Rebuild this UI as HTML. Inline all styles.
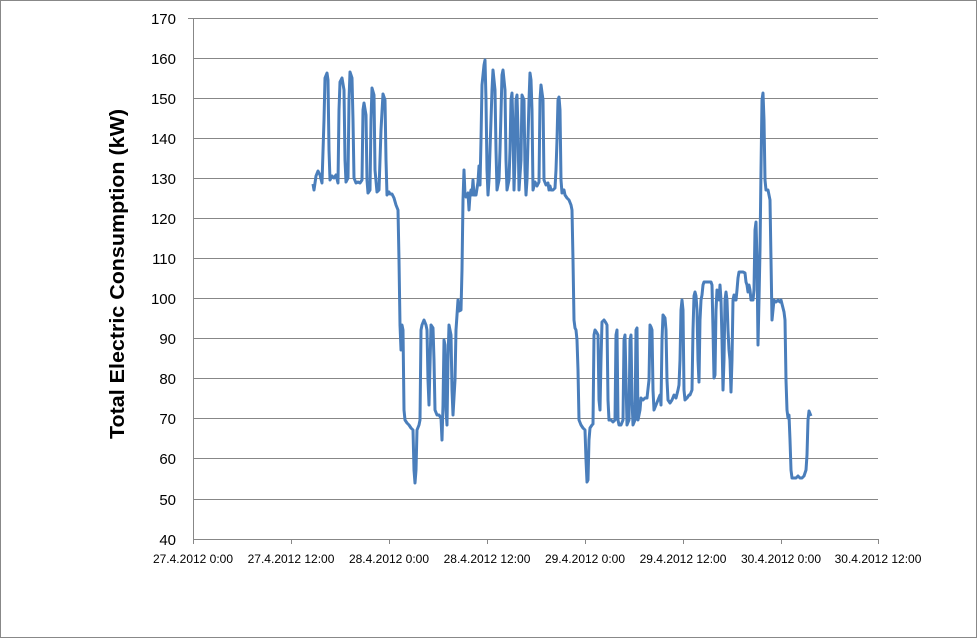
<!DOCTYPE html>
<html><head><style>
body{margin:0;background:#fff;}
svg{display:block;font-family:"Liberation Sans",sans-serif;}
</style></head><body>
<svg width="977" height="638" viewBox="0 0 977 638">
<rect x="0.5" y="0.5" width="976" height="637" fill="#fff" stroke="#888"/>
<g stroke="#878787" stroke-width="1">
<line x1="193" y1="18.5" x2="878" y2="18.5"/>
<line x1="193" y1="58.5" x2="878" y2="58.5"/>
<line x1="193" y1="98.5" x2="878" y2="98.5"/>
<line x1="193" y1="138.5" x2="878" y2="138.5"/>
<line x1="193" y1="178.5" x2="878" y2="178.5"/>
<line x1="193" y1="218.5" x2="878" y2="218.5"/>
<line x1="193" y1="258.5" x2="878" y2="258.5"/>
<line x1="193" y1="298.5" x2="878" y2="298.5"/>
<line x1="193" y1="338.5" x2="878" y2="338.5"/>
<line x1="193" y1="378.5" x2="878" y2="378.5"/>
<line x1="193" y1="418.5" x2="878" y2="418.5"/>
<line x1="193" y1="458.5" x2="878" y2="458.5"/>
<line x1="193" y1="499.5" x2="878" y2="499.5"/>
<line x1="193" y1="539.5" x2="878" y2="539.5"/>
<line x1="193.5" y1="18" x2="193.5" y2="544"/>
<line x1="291.5" y1="539" x2="291.5" y2="544"/>
<line x1="389.5" y1="539" x2="389.5" y2="544"/>
<line x1="487.5" y1="539" x2="487.5" y2="544"/>
<line x1="585.5" y1="539" x2="585.5" y2="544"/>
<line x1="683.5" y1="539" x2="683.5" y2="544"/>
<line x1="781.5" y1="539" x2="781.5" y2="544"/>
<line x1="878.5" y1="539" x2="878.5" y2="544"/>
<line x1="188" y1="18.5" x2="193" y2="18.5"/>
</g>
<g font-size="15" text-anchor="end" fill="#000">
<text x="176" y="24">170</text><text x="176" y="64">160</text><text x="176" y="104">150</text>
<text x="176" y="144">140</text><text x="176" y="184">130</text><text x="176" y="224">120</text>
<text x="176" y="264">110</text><text x="176" y="304">100</text><text x="176" y="344">90</text>
<text x="176" y="384">80</text><text x="176" y="424">70</text><text x="176" y="464">60</text>
<text x="176" y="505">50</text><text x="176" y="545">40</text>
</g>
<g font-size="12" text-anchor="middle" fill="#000">
<text x="193" y="563">27.4.2012 0:00</text><text x="291" y="563">27.4.2012 12:00</text>
<text x="389" y="563">28.4.2012 0:00</text><text x="487" y="563">28.4.2012 12:00</text>
<text x="585" y="563">29.4.2012 0:00</text><text x="683" y="563">29.4.2012 12:00</text>
<text x="781" y="563">30.4.2012 0:00</text><text x="878" y="563">30.4.2012 12:00</text>
</g>
<text transform="translate(124,274) rotate(-90)" font-size="20" font-weight="bold" text-anchor="middle" textLength="330" lengthAdjust="spacingAndGlyphs">Total Electric Consumption (kW)</text>
<polyline fill="none" stroke="#4a7ebb" stroke-width="3" stroke-linejoin="round" points="
313,184 314,190 316,176 318,171 320,175 322,183 324,120 325,78 327,73 328,80 329,150 330,180 332,176 334,178 336,175 338,183 339,110 340,82 342,78 344,90 345,160 346,182 348,178 349,100 350,72 352,78 353,120 354,178 356,183 358,182 360,183 362,180 363,110 364,103 366,115 367,180 368,193 370,190 371,120 372,88 374,95 375,170 377,192 379,190 381,130 383,94 385,100 386,160 387,195 389,192 390,194 392,194 394,198 396,205 398,210 399,260 400,325 401,350 402,325 403,330 404,410 405,420 407,423 409,425 411,428 413,430 414,470 415,483 416,470 417,430 419,425 420,420 421,330 422,325 424,320 426,325 427,330 428,380 429,405 431,325 433,328 434,360 435,410 437,415 439,415 441,418 442,440 443,405 444,340 445,345 446,410 447,425 448,360 449,325 451,335 452,390 453,415 455,380 456,330 458,300 459,311 461,310 462,270 463,200 464,170 465,195 466,197 468,193 469,210 470,195 471,190 472,195 473,180 474,195 476,195 478,182 479,166 480,185 481,140 482,85 483,75 484,65 485,60 486,100 487,170 488,195 489,180 490,150 492,90 493,70 494,80 495,90 496,150 497,190 499,180 500,150 502,75 503,70 504,80 505,90 506,160 507,190 509,180 510,150 511,100 512,93 513,130 514,190 515,160 516,100 517,95 518,130 519,190 521,160 522,95 524,100 525,170 526,195 527,180 529,100 530,73 531,80 532,110 533,190 535,182 537,186 539,182 540,100 541,85 543,100 544,180 546,185 548,183 549,190 550,186 551,190 553,190 555,188 556,170 557,140 558,100 559,97 560,110 561,180 562,193 564,190 565,195 567,198 569,200 571,205 572,210 573,260 574,320 575,328 576,330 577,340 578,370 579,420 581,425 583,428 585,430 586,460 587,482 588,480 589,440 590,428 592,425 593,424 594,335 595,330 597,333 598,335 599,400 600,410 601,360 602,322 604,320 606,323 607,325 608,400 609,420 611,420 613,422 615,420 616,335 617,330 618,420 619,425 621,425 623,420 624,340 625,335 626,380 627,425 629,420 630,340 631,335 632,400 633,425 635,420 636,330 637,328 638,420 640,410 641,398 643,400 645,398 647,398 649,380 650,325 651,327 652,330 653,390 654,410 656,405 658,400 660,395 661,405 662,340 663,315 665,318 666,330 667,380 668,400 670,403 672,400 674,395 676,398 678,390 679,385 680,360 681,310 682,300 683,310 684,390 685,400 687,398 689,395 690,395 692,390 693,330 694,296 695,292 696,296 697,310 698,360 699,382 700,320 701,300 702,295 703,285 704,282 706,282 708,282 710,282 711,282 712,285 713,330 714,378 715,375 716,310 717,290 718,295 719,300 720,285 721,300 722,340 723,390 724,360 725,300 726,292 727,300 728,330 729,350 730,360 731,392 732,360 733,300 734,295 735,300 736,300 737,290 738,278 739,272 741,272 743,272 745,273 746,282 747,285 748,292 749,285 750,290 751,300 752,300 753,300 754,290 755,230 756,222 757,260 758,345 759,300 760,250 761,170 762,100 763,93 764,120 765,180 766,190 768,190 770,200 771,260 772,320 773,310 774,300 776,302 778,300 780,302 781,300 783,308 784,312 785,320 786,380 787,410 788,418 789,415 790,440 791,470 792,478 794,478 796,478 798,476 800,478 802,478 804,476 806,470 807,455 808,420 809,411 811,416"/>
</svg>
</body></html>
